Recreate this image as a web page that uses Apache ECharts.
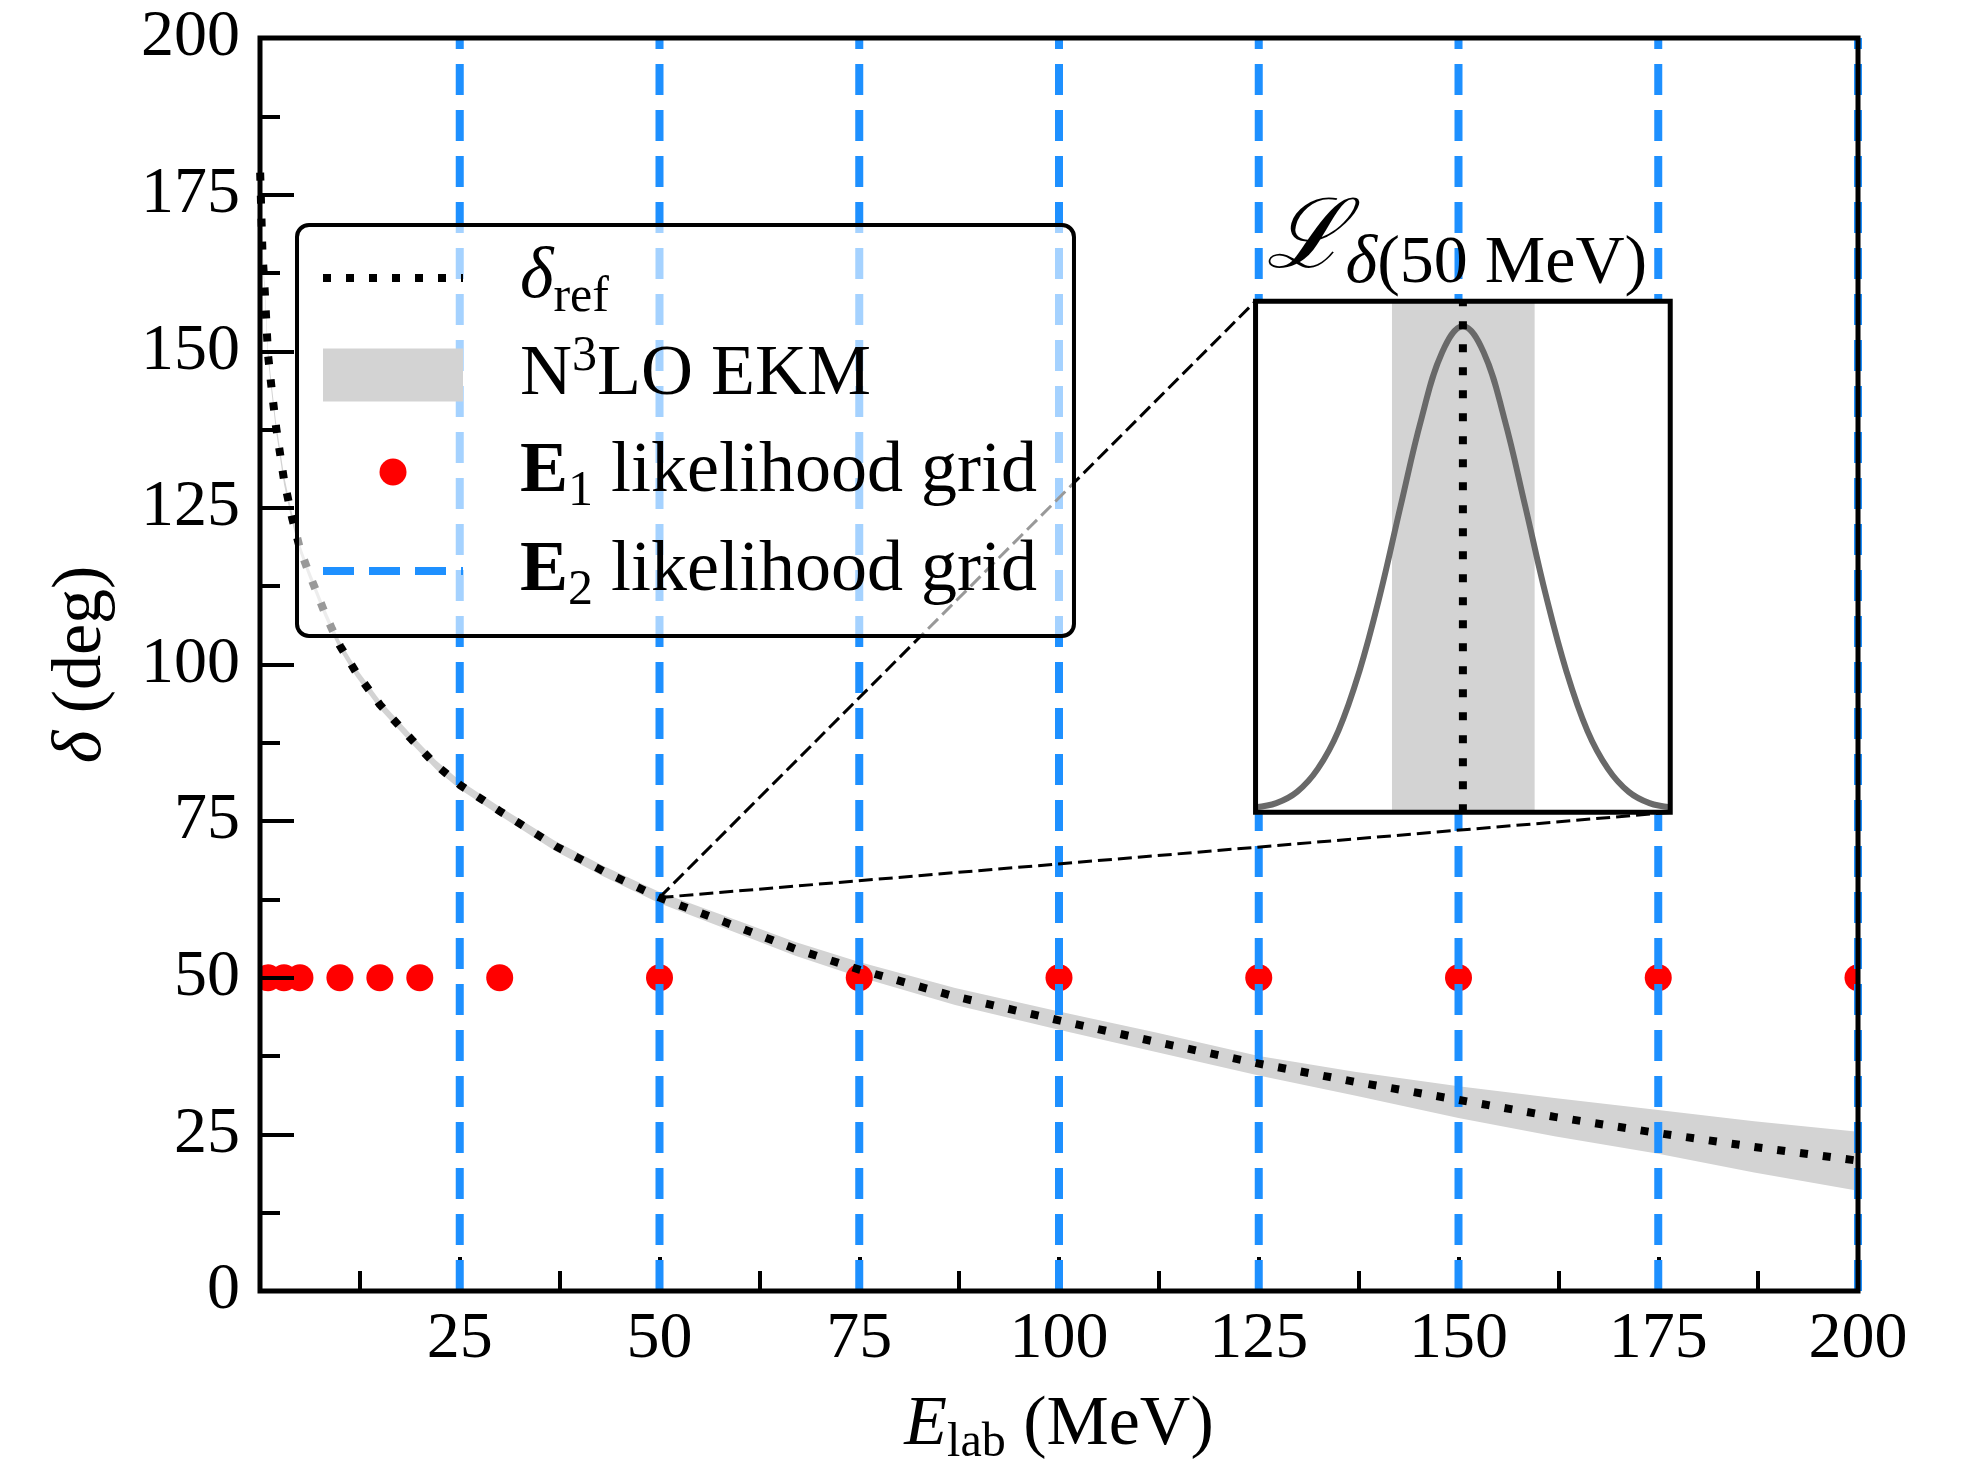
<!DOCTYPE html>
<html>
<head>
<meta charset="utf-8">
<title>Phase shift and likelihood grids</title>
<script src="https://cdn.jsdelivr.net/npm/echarts@6/dist/echarts.min.js"></script>
<style>
html, body { margin: 0; padding: 0; background: #ffffff; }
#chart { width: 1963px; height: 1464px; }
</style>
</head>
<body>
<div id="chart"></div>
<script>
// ---------------- data ----------------
const energies = [0.02, 0.3, 0.6, 1, 1.5, 2, 3, 4, 5, 6, 7, 8, 9, 10, 12, 15, 19, 22, 25, 30, 37, 43, 50, 60, 67, 75, 87, 100, 112, 125, 137, 150, 162, 175, 187, 200];
const deltaRef = [178.5, 166, 159.5, 149.5, 143.5, 138, 129.5, 123.5, 118.5, 115, 111.8, 108.6, 105.7, 103, 98.8, 93.6, 88, 84, 80.8, 76.6, 71, 67, 62.8, 58, 54.6, 51.3, 47, 43.2, 39.8, 36.3, 33.4, 30.5, 27.8, 25.2, 23.0, 20.8];
const bandLow  = [177.8, 165.3, 158.8, 148.8, 142.8, 137.3, 128.8, 122.8, 117.8, 114.3, 111.1, 107.9, 105.0, 102.3, 98.1, 92.9, 87.3, 83.3, 80.1, 75.9, 70.2, 66.15, 61.9, 57.0, 53.5, 50.1, 45.65, 41.7, 38.2, 34.4, 31.2, 27.6, 24.7, 21.9, 18.9, 16.0];
const bandHigh = [179.2, 166.7, 160.2, 150.2, 144.2, 138.7, 130.2, 124.2, 119.2, 115.7, 112.5, 109.3, 106.4, 103.7, 99.5, 94.3, 88.7, 84.7, 81.5, 77.3, 71.8, 67.85, 63.7, 59.0, 55.7, 52.5, 48.35, 44.6, 41.3, 37.5, 35.0, 32.7, 30.8, 28.9, 27.1, 25.4];

const e1Energies = [1, 3, 5, 10, 15, 20, 30, 50, 75, 100, 125, 150, 175, 200];
const e1Delta    = 50;
const e2Energies = [25, 50, 75, 100, 125, 150, 175, 200];
const zoomEnergy = 50;

const xTickLabels = ['25', '50', '75', '100', '125', '150', '175', '200'];
const yTickLabels = ['0', '25', '50', '75', '100', '125', '150', '175', '200'];

// inset: likelihood of delta at 50 MeV (normalised units)
const insetOffset     = [0, 0.05, 0.1, 0.15, 0.2, 0.25, 0.3, 0.35, 0.4, 0.45, 0.5, 0.55, 0.6, 0.65, 0.7, 0.75, 0.8, 0.85, 0.9, 0.95, 1];
const insetLikelihood = [0.010, 0.018, 0.040, 0.085, 0.160, 0.275, 0.425, 0.600, 0.770, 0.900, 0.951, 0.900, 0.770, 0.600, 0.425, 0.275, 0.160, 0.085, 0.040, 0.018, 0.010];
const insetBand   = [0.329, 0.673];
const insetCenter = 0.5;

const legendNames = ['δref', 'N³LO EKM', 'E₁ likelihood grid', 'E₂ likelihood grid'];
const legendRich = {
  'δref': '{it|δ}{sub|ref}',
  'N³LO EKM': '{n|N}{sup|3}{n|LO EKM}',
  'E₁ likelihood grid': '{b|E}{sub|1}{n| likelihood grid}',
  'E₂ likelihood grid': '{b|E}{sub|2}{n| likelihood grid}'
};

// ---------------- layout / style ----------------
const SERIF = '"Liberation Serif", "Times New Roman", serif';
const GRID = { left: 260, top: 38, width: 1598, height: 1253 };
const X_RANGE = [0, 200];
const Y_RANGE = [0, 200];
const INSET_BOX = { e0: 124.6, e1: 176.5, d0: 76.4, d1: 158.0 }; // inset placement in main data coords
const BLUE = '#1e90ff', GRAY = '#d3d3d3', RED = '#ff0000';

function richStyles(base, sub, lh, drop) {
  return {
    n:   { fontFamily: SERIF, fontSize: base, lineHeight: lh, color: '#000', verticalAlign: 'middle' },
    it:  { fontFamily: SERIF, fontSize: base, lineHeight: lh, fontStyle: 'italic', color: '#000', verticalAlign: 'middle' },
    b:   { fontFamily: SERIF, fontSize: base, lineHeight: lh, fontWeight: 'bold', color: '#000', verticalAlign: 'middle' },
    sub: { fontFamily: SERIF, fontSize: sub, lineHeight: lh, color: '#000', verticalAlign: 'middle', padding: [drop, 0, 0, 0] },
    sup: { fontFamily: SERIF, fontSize: sub, lineHeight: lh, color: '#000', verticalAlign: 'middle', padding: [0, 0, 36, 0] }
  };
}

const zoomDelta = deltaRef[energies.indexOf(zoomEnergy)];

function buildOption(inset) {
  const e2Data = [];
  e2Energies.forEach(e => { e2Data.push([e, Y_RANGE[0]], [e, Y_RANGE[1]], [e, '-']); });

  const grids = [{
    left: GRID.left, top: GRID.top, width: GRID.width, height: GRID.height,
    outerBoundsMode: 'none', containLabel: false,
    show: true, backgroundColor: 'transparent', borderColor: '#000', borderWidth: 5, z: 10
  }];
  const xAxes = [{
    type: 'value', gridIndex: 0, min: X_RANGE[0], max: X_RANGE[1], interval: 25, z: 3,
    axisLine: { show: false }, splitLine: { show: false },
    axisTick: { show: true, inside: true, length: 34, lineStyle: { color: '#000', width: 4 } },
    minorTick: { show: true, splitNumber: 2, length: 20, lineStyle: { color: '#000', width: 4 } },
    minorSplitLine: { show: false },
    axisLabel: {
      show: true, margin: 16, fontFamily: SERIF, fontSize: 66, color: '#000', hideOverlap: false,
      formatter: v => (xTickLabels.indexOf(String(v)) >= 0 ? String(v) : '')
    },
    name: '{it|E}{sub|lab}{n| (MeV)}', nameLocation: 'middle', nameGap: 97,
    nameTextStyle: { fontFamily: SERIF, fontSize: 70, color: '#000', lineHeight: 76, rich: richStyles(70, 48, 76, 34) }
  }];
  const yAxes = [{
    type: 'value', gridIndex: 0, min: Y_RANGE[0], max: Y_RANGE[1], interval: 25, z: 3,
    axisLine: { show: false }, splitLine: { show: false },
    axisTick: { show: true, inside: true, length: 34, lineStyle: { color: '#000', width: 4 } },
    minorTick: { show: true, splitNumber: 2, length: 20, lineStyle: { color: '#000', width: 4 } },
    minorSplitLine: { show: false },
    axisLabel: {
      show: true, margin: 20, fontFamily: SERIF, fontSize: 66, color: '#000', hideOverlap: false,
      formatter: v => (yTickLabels.indexOf(String(v)) >= 0 ? String(v) : '')
    },
    name: '{it|δ}{n| (deg)}', nameLocation: 'middle', nameGap: 140, nameRotate: 90,
    nameTextStyle: { fontFamily: SERIF, fontSize: 70, color: '#000', lineHeight: 76, rich: richStyles(70, 48, 76, 34) }
  }];

  const series = [
    {
      type: 'custom', name: 'N³LO EKM', coordinateSystem: 'cartesian2d', xAxisIndex: 0, yAxisIndex: 0,
      data: energies.map((e, i) => [e, bandLow[i], bandHigh[i]]), encode: { x: 0, y: [1, 2] },
      clip: true, itemStyle: { color: GRAY }, silent: true, z: 1,
      renderItem: (params, api) => {
        if (params.dataIndex !== 0) return null;
        const upper = energies.map((e, i) => api.coord([e, bandHigh[i]]));
        const lower = energies.map((e, i) => api.coord([e, bandLow[i]])).reverse();
        return { type: 'polygon', shape: { points: upper.concat(lower) }, style: { fill: GRAY } };
      }
    },
    {
      type: 'custom', name: 'E₁ likelihood grid', coordinateSystem: 'cartesian2d', xAxisIndex: 0, yAxisIndex: 0,
      data: e1Energies.map(e => [e, e1Delta]), encode: { x: 0, y: 1 }, clip: true,
      itemStyle: { color: RED }, silent: true, z: 2,
      renderItem: (params, api) => {
        const p = api.coord([api.value(0), api.value(1)]);
        return { type: 'circle', shape: { cx: p[0], cy: p[1], r: 13.5 }, style: { fill: RED } };
      }
    },
    {
      type: 'line', name: 'E₂ likelihood grid', xAxisIndex: 0, yAxisIndex: 0,
      data: e2Data, symbol: 'none', connectNulls: false,
      lineStyle: { color: BLUE, width: 8, type: [31, 15], cap: 'butt' }, itemStyle: { color: BLUE },
      silent: true, z: 4
    },
    {
      type: 'line', name: 'δref', xAxisIndex: 0, yAxisIndex: 0,
      data: energies.map((e, i) => [e, deltaRef[i]]),
      symbol: 'none', smooth: false,
      lineStyle: { color: '#000', width: 8, type: [8, 15], cap: 'butt', join: 'round' }, itemStyle: { color: '#000' },
      silent: true, z: 5,
      markLine: {
        silent: true, symbol: 'none', animation: false,
        label: { show: false },
        lineStyle: { color: '#000', width: 3, type: [14, 6] },
        data: [
          [{ coord: [zoomEnergy, zoomDelta] }, { coord: [INSET_BOX.e0, INSET_BOX.d1] }],
          [{ coord: [zoomEnergy, zoomDelta] }, { coord: [INSET_BOX.e1, INSET_BOX.d0] }]
        ]
      }
    }
  ];

  const graphics = [];

  if (inset) {
    grids.push({
      left: inset.x, top: inset.y, width: inset.w, height: inset.h, outerBoundsMode: 'none',
      show: true, backgroundColor: '#ffffff', borderWidth: 0, z: 30
    });
    xAxes.push({ type: 'value', gridIndex: 1, min: 0, max: 1, show: false });
    yAxes.push({ type: 'value', gridIndex: 1, min: 0, max: 1, show: false });
    series.push(
      {
        type: 'custom', name: 'insetBand', coordinateSystem: 'cartesian2d', xAxisIndex: 1, yAxisIndex: 1,
        data: [[insetBand[0], insetBand[1]]], silent: true, z: 31,
        renderItem: (params, api) => {
          const p0 = api.coord([api.value(0), 1]);
          const p1 = api.coord([api.value(1), 0]);
          return { type: 'rect', shape: { x: p0[0], y: p0[1], width: p1[0] - p0[0], height: p1[1] - p0[1] }, style: { fill: GRAY } };
        }
      },
      {
        type: 'line', name: 'insetLikelihood', xAxisIndex: 1, yAxisIndex: 1,
        data: insetOffset.map((x, i) => [x, insetLikelihood[i]]),
        symbol: 'none', smooth: 0.4, clip: false,
        lineStyle: { color: '#696969', width: 6 }, silent: true, z: 32
      },
      {
        type: 'line', name: 'insetCenter', xAxisIndex: 1, yAxisIndex: 1,
        data: [[insetCenter, 0], [insetCenter, 1]],
        symbol: 'none', clip: false,
        lineStyle: { color: '#000', width: 8, type: [8, 15], cap: 'butt' }, silent: true, z: 33
      }
    );
    graphics.push(
      {
        type: 'rect', z: 34, silent: true,
        shape: { x: inset.x, y: inset.y, width: inset.w, height: inset.h },
        style: { fill: 'none', stroke: '#000', lineWidth: 5 }
      },
      {
        type: 'text', z: 40, silent: true, x: inset.x + 10, y: inset.y - 4,
        style: {
          text: '{L|ℒ}{s|δ}{t|(' + zoomEnergy + ' MeV)}',
          align: 'left', verticalAlign: 'bottom',
          rich: {
            L: { fontFamily: '"DejaVu Serif", serif', fontStyle: 'italic', fontSize: 96, lineHeight: 110, color: '#000', verticalAlign: 'middle' },
            s: { fontFamily: SERIF, fontStyle: 'italic', fontSize: 68, lineHeight: 110, color: '#000', verticalAlign: 'middle', padding: [44, 0, 0, 0] },
            t: { fontFamily: SERIF, fontSize: 68, lineHeight: 110, color: '#000', verticalAlign: 'middle', padding: [44, 0, 0, 0] }
          }
        }
      }
    );
  }

  return {
    animation: false,
    backgroundColor: '#ffffff',
    grid: grids,
    xAxis: xAxes,
    yAxis: yAxes,
    legend: {
      orient: 'vertical', left: 297, top: 225, z: 20,
      padding: [8, 37, 20, 13], itemWidth: 140, itemHeight: 27, itemGap: 9,
      backgroundColor: 'rgba(255,255,255,0.6)', borderColor: '#000', borderWidth: 4, borderRadius: 12,
      selectedMode: false,
      textStyle: { fontFamily: SERIF, fontSize: 72, color: '#000', lineHeight: 76, padding: [0, 0, 0, 52], rich: richStyles(72, 50, 76, 40) },
      formatter: name => legendRich[name] || name,
      data: [
        { name: legendNames[0], itemStyle: { opacity: 0 }, lineStyle: { color: '#000', width: 8, type: [8, 15], opacity: 1 } },
        { name: legendNames[1], icon: 'path://M13,0L127,0L127,27L13,27Z M0,0 M140,27',
          itemStyle: { color: GRAY, borderColor: GRAY, borderWidth: 26, opacity: 1 } },
        { name: legendNames[2], icon: 'circle', itemStyle: { color: RED, borderWidth: 0 } },
        { name: legendNames[3], itemStyle: { opacity: 0 }, lineStyle: { color: BLUE, width: 8, type: [31, 15], opacity: 1 } }
      ]
    },
    graphic: graphics,
    series: series
  };
}

const chart = echarts.init(document.getElementById('chart'), null, { renderer: 'canvas' });
chart.setOption(buildOption(null));
const tl = chart.convertToPixel({ gridIndex: 0 }, [INSET_BOX.e0, INSET_BOX.d1]);
const br = chart.convertToPixel({ gridIndex: 0 }, [INSET_BOX.e1, INSET_BOX.d0]);
chart.setOption(buildOption({ x: tl[0], y: tl[1], w: br[0] - tl[0], h: br[1] - tl[1] }), true);
</script>
</body>
</html>
